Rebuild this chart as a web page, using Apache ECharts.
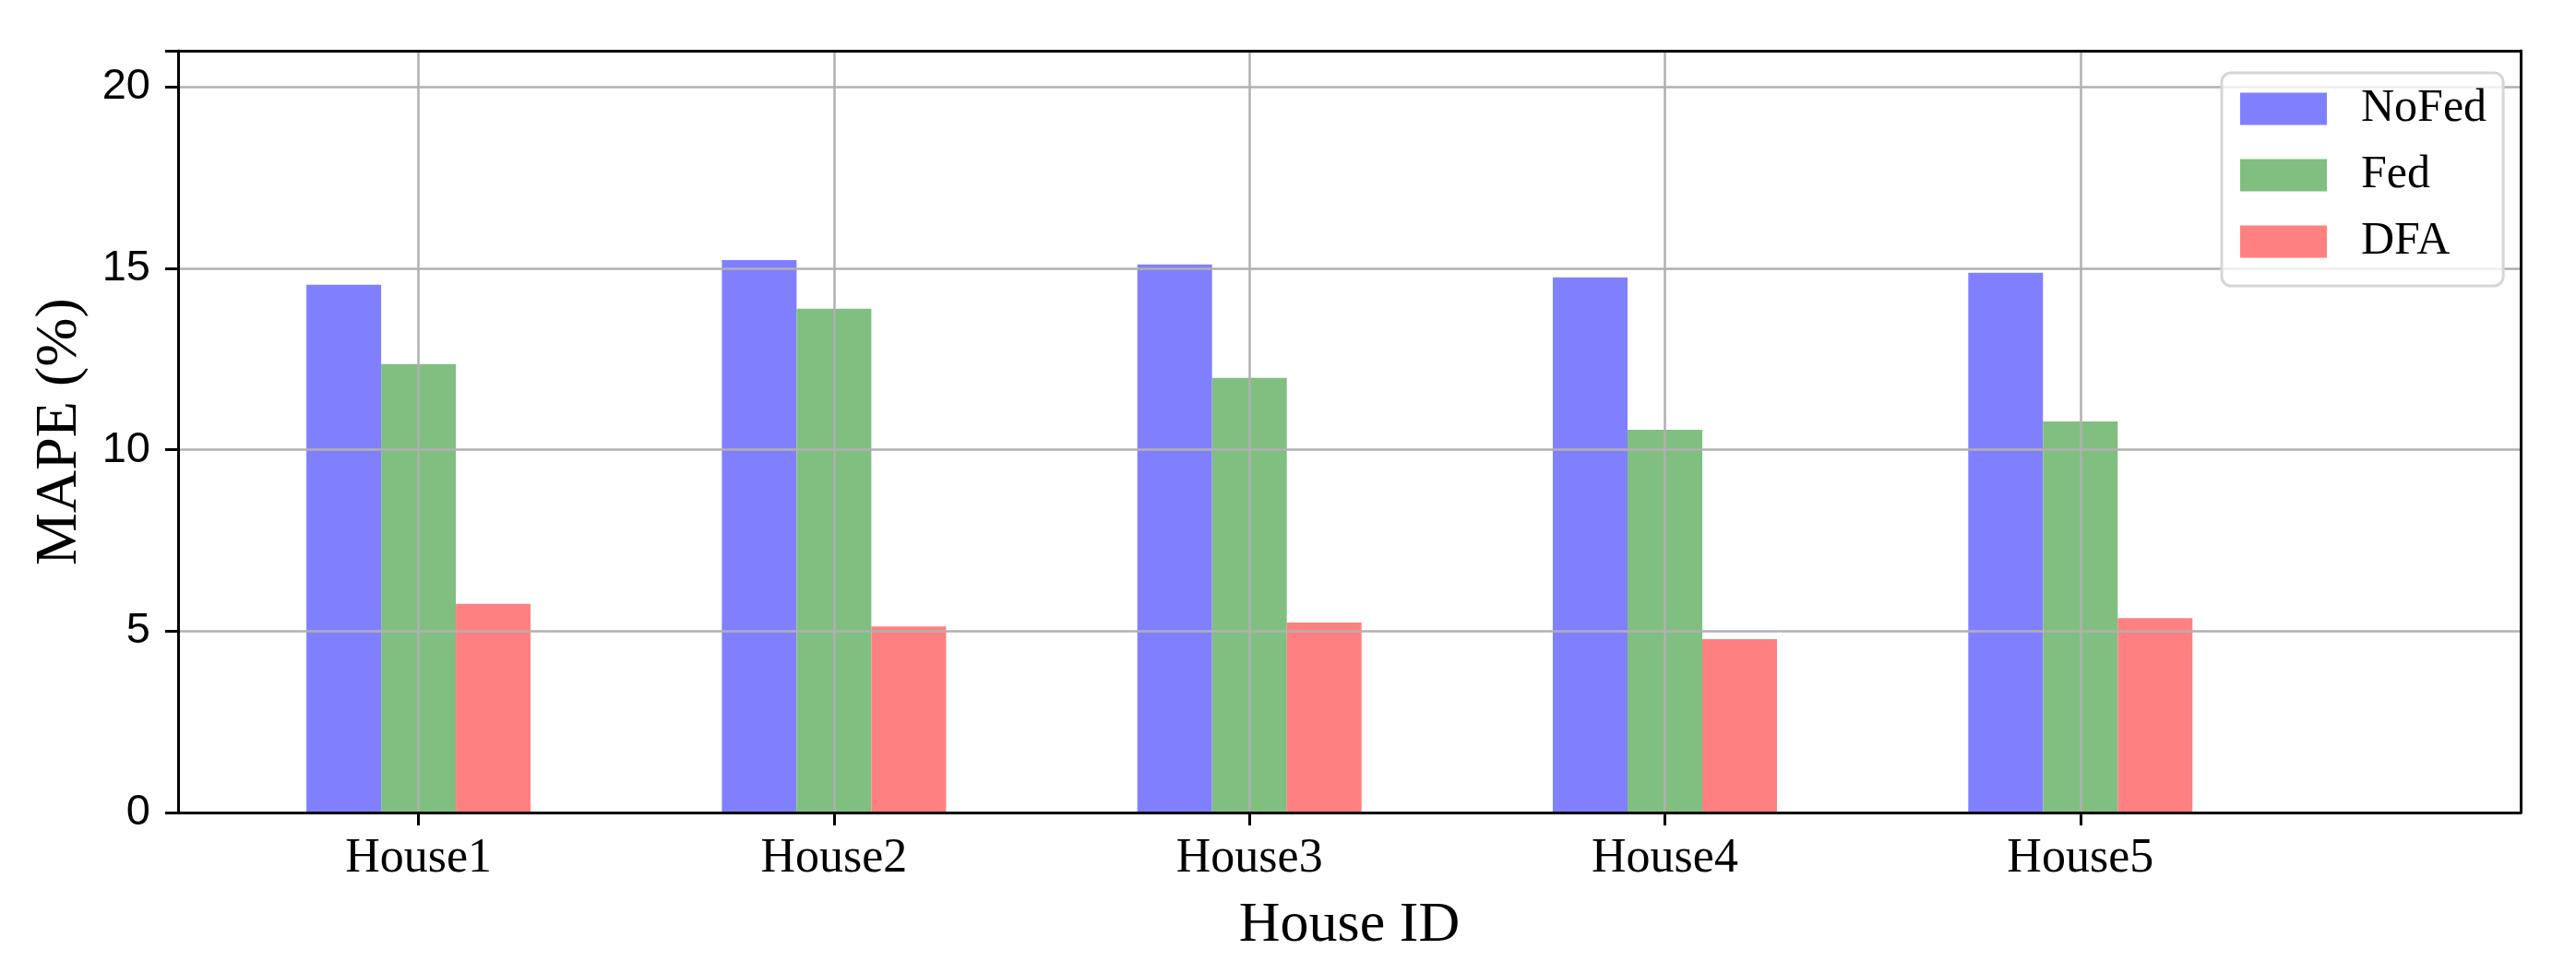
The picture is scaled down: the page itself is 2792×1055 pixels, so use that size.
<!DOCTYPE html>
<html>
<head>
<meta charset="utf-8">
<script src="https://cdn.jsdelivr.net/npm/echarts@6/dist/echarts.min.js"></script>
<style>
html,body{margin:0;padding:0;background:#fff;}
#chart{width:2792px;height:1055px;}
</style>
</head>
<body>
<div id="chart"></div>
<script>
const categories = ['House1', 'House2', 'House3', 'House4', 'House5'];
const seriesNames = ['NoFed', 'Fed', 'DFA'];
const noFed = [14.55, 15.23, 15.11, 14.75, 14.88];
const fed = [12.36, 13.89, 11.98, 10.55, 10.78];
const dfa = [5.75, 5.13, 5.24, 4.78, 5.36];
const yTicks = [0, 5, 10, 15, 20];
const colors = ['#8080ff', '#80bf80', '#ff8080'];

const chart = echarts.init(document.getElementById('chart'), null, {renderer: 'canvas'});
const serif = 'Liberation Serif, Times New Roman, serif';
const sans = 'Liberation Sans, Arial, sans-serif';
const gridTop = 55, gridH = 826;
const plotLeft = 193, plotRight = 2732;
const catLeft = 453.6, catSpacing = 450.3;
const frameLine = {show: true, onZero: false, lineStyle: {color: '#000', width: 3}};

const option = {
  animation: false,
  backgroundColor: '#fff',
  grid: [
    {left: plotLeft, top: gridTop, width: plotRight - plotLeft, height: gridH, show: false},
    {left: catLeft, top: gridTop, width: catSpacing * 4, height: gridH, show: false}
  ],
  xAxis: [
    {gridIndex: 0, type: 'value', min: 0, max: 1, position: 'bottom', z: 4,
     axisLine: frameLine, axisTick: {show: false}, axisLabel: {show: false}, splitLine: {show: false},
     name: 'House ID', nameLocation: 'middle', nameGap: 92,
     nameTextStyle: {fontFamily: serif, fontSize: 62, color: '#000'}},
    {gridIndex: 0, type: 'value', min: 0, max: 1, position: 'top', z: 4,
     axisLine: frameLine, axisTick: {show: false}, axisLabel: {show: false}, splitLine: {show: false}},
    {gridIndex: 1, type: 'category', data: categories, boundaryGap: false, z: 3,
     axisLine: {show: false},
     axisTick: {show: true, length: 14, lineStyle: {color: '#000', width: 3}},
     splitLine: {show: true, lineStyle: {color: '#b0b0b0', width: 2.5}},
     axisLabel: {fontFamily: serif, fontSize: 52, color: '#000', margin: 24}
    }
  ],
  yAxis: [
    {gridIndex: 0, type: 'value', min: 0, max: 21, interval: 5, z: 3, position: 'left',
     axisLine: frameLine,
     axisTick: {show: true, length: 14, lineStyle: {color: '#000', width: 3}},
     splitLine: {show: true, lineStyle: {color: '#b0b0b0', width: 2.5}},
     axisLabel: {fontFamily: sans, fontSize: 47, color: '#000', margin: 30,
       formatter: v => (yTicks.indexOf(v) >= 0 ? String(v) : '')},
     name: 'MAPE (%)', nameLocation: 'middle', nameGap: 96,
     nameTextStyle: {fontFamily: serif, fontSize: 64, color: '#000'}
    },
    {gridIndex: 0, type: 'value', min: 0, max: 21, position: 'right', z: 4,
     axisLine: frameLine, axisTick: {show: false}, axisLabel: {show: false}, splitLine: {show: false}},
    {gridIndex: 1, type: 'value', min: 0, max: 21, show: false}
  ],
  legend: {
    orient: 'vertical', left: 2408, top: 79, z: 10,
    data: seriesNames,
    icon: 'rect', itemWidth: 94, itemHeight: 35, itemGap: 22,
    padding: [14, 18, 23, 20],
    backgroundColor: 'rgba(255,255,255,0.8)',
    borderColor: '#d6d6d6', borderWidth: 3, borderRadius: 10,
    textStyle: {fontFamily: serif, fontSize: 50, color: '#000', lineHeight: 35, padding: [0, 0, 0, 32]}
  },
  series: [
    {name: seriesNames[0], data: noFed},
    {name: seriesNames[1], data: fed},
    {name: seriesNames[2], data: dfa}
  ].map((s, i) => ({
    name: s.name, type: 'bar', data: s.data,
    xAxisIndex: 2, yAxisIndex: 2,
    barWidth: 81, barGap: '0%', clip: false,
    itemStyle: {color: colors[i]}
  }))
};
chart.setOption(option);
</script>
</body>
</html>
